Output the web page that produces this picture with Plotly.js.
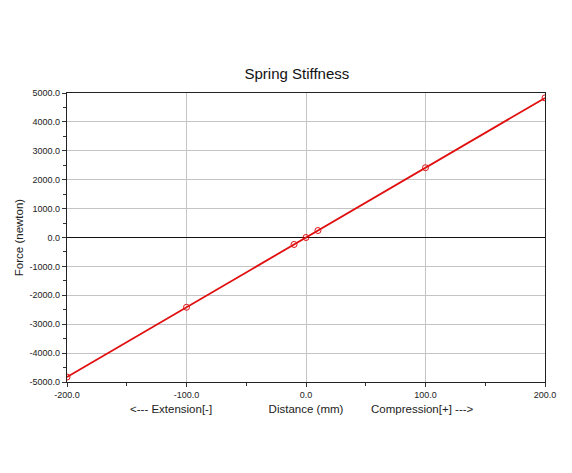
<!DOCTYPE html>
<html>
<head>
<meta charset="utf-8">
<script src="https://cdn.plot.ly/plotly-3.0.1.min.js"></script>
<style>html,body{margin:0;padding:0;background:#fff;}#chart{width:572px;height:473px;}</style>
</head>
<body>
<div id="chart"></div>
<script>
// Data
const distance = [-200, -100, -10, 0, 10, 100, 200];   // mm
const force = [-4830, -2415, -241.5, 0, 241.5, 2415, 4830]; // newton
const xTickVals = [-200, -100, 0, 100, 200];
const yTickVals = [-5000, -4000, -3000, -2000, -1000, 0, 1000, 2000, 3000, 4000, 5000];
const chartTitle = "Spring Stiffness";
const xTitle = "Distance (mm)";
const yTitle = "Force (newton)";
const leftLabel = "<--- Extension[-]";
const rightLabel = "Compression[+] --->";

const fmt = v => v.toFixed(1);
const tickFont = {family: "Arial, 'Liberation Sans', sans-serif", size: 9, color: "#222"};
const labelFont = {family: "Arial, 'Liberation Sans', sans-serif", size: 11.5, color: "#222"};

const trace = {
  x: distance, y: force, type: "scatter", mode: "lines+markers",
  line: {color: "#e01010", width: 1.8},
  marker: {symbol: "circle-open", size: 6, color: "#e01010", line: {width: 1}},
  hoverinfo: "x+y", showlegend: false
};

const layout = {
  width: 572, height: 473,
  margin: {l: 67, r: 27, t: 93, b: 91},
  paper_bgcolor: "#fff", plot_bgcolor: "#fff",
  title: {text: chartTitle, xref: "container", x: 0.519, xanchor: "center",
          yref: "container", y: 1 - 74/473, yanchor: "middle",
          font: {family: "Arial, 'Liberation Sans', sans-serif", size: 15, color: "#111"}},
  xaxis: {
    range: [-200, 200], tickvals: xTickVals, ticktext: xTickVals.map(fmt),
    tickfont: tickFont, ticks: "outside", ticklen: 4, tickcolor: "#333",
    showline: true, linecolor: "#222", linewidth: 1.2, mirror: true,
    showgrid: true, gridcolor: "#c4c4c4", gridwidth: 1, zeroline: false,
    minor: {dtick: 50, tick0: 0, ticks: "outside", ticklen: 3, tickcolor: "#333", showgrid: false},
    title: {text: xTitle, font: labelFont, standoff: 6}
  },
  yaxis: {
    range: [-5000, 5000], tickvals: yTickVals, ticktext: yTickVals.map(fmt),
    tickfont: tickFont, ticks: "outside", ticklen: 4, tickcolor: "#333",
    showline: true, linecolor: "#222", linewidth: 1.2, mirror: true,
    showgrid: true, gridcolor: "#c4c4c4", gridwidth: 1,
    zeroline: true, zerolinecolor: "#111", zerolinewidth: 1.2,
    minor: {dtick: 500, tick0: 0, ticks: "outside", ticklen: 3, tickcolor: "#333", showgrid: false},
    title: {text: yTitle, font: labelFont, standoff: 3}
  },
  annotations: [
    {text: leftLabel, xref: "paper", yref: "paper", x: (171-67)/478, y: -(409-382)/289,
     xanchor: "center", yanchor: "middle", showarrow: false, font: labelFont},
    {text: rightLabel, xref: "paper", yref: "paper", x: (422-67)/478, y: -(409-382)/289,
     xanchor: "center", yanchor: "middle", showarrow: false, font: labelFont}
  ]
};

Plotly.newPlot("chart", [trace], layout, {staticPlot: true, displayModeBar: false});
</script>
</body>
</html>
